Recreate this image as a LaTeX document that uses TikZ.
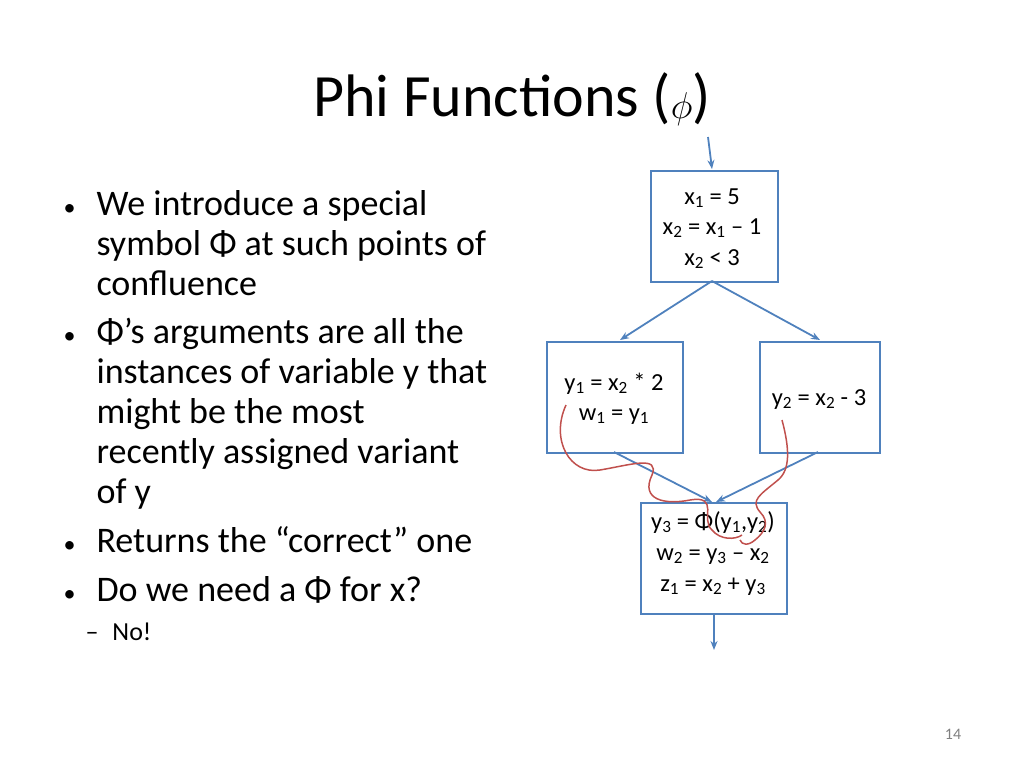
\documentclass[tikz,border=0pt]{standalone}
\usepackage{fontspec}
\setmainfont{Carlito}
\usetikzlibrary{arrows.meta}
\definecolor{bbl}{RGB}{79,129,189}
\definecolor{rd}{RGB}{192,80,77}
\begin{document}
\begin{tikzpicture}[x=1pt,y=-1pt,
  box/.style={draw=bbl,line width=1.5pt,minimum width=#1,anchor=north west,inner sep=0},
  bt/.style={font=\fontsize{24.5}{28}\selectfont,anchor=base},
  arr/.style={draw=bbl,line width=1.8pt,-{Stealth[length=9pt,width=7pt]}},
  bul/.style={font=\fontsize{36}{40}\selectfont,anchor=base west},
  red/.style={draw=rd,line width=1.5pt}]
\useasboundingbox (0,0) rectangle (1024,768);
\node[anchor=base,font=\fontsize{60}{66}\selectfont] (title) at (512,116) {Phi Functions (\raisebox{-2pt}{\scalebox{1.5}{$\phi$}})};
% boxes
\node[box=127pt,minimum height=111pt] (A) at (650,170) {};
\node[box=136pt,minimum height=111pt] (L) at (546,341) {};
\node[box=120pt,minimum height=111pt] (R) at (759,341) {};
\node[box=146pt,minimum height=111pt] (B) at (640,502) {};
\node[bt] (a1) at (712,204) {x\textsubscript{1} = 5};
\node[bt] (a2) at (712,234) {x\textsubscript{2} = x\textsubscript{1} – 1};
\node[bt] (a3) at (712,265) {x\textsubscript{2} < 3};
\node[bt] (l1) at (614,390) {y\textsubscript{1} = x\textsubscript{2} * 2};
\node[bt] (l2) at (614,420) {w\textsubscript{1} = y\textsubscript{1}};
\node[bt] (r1) at (819,405) {y\textsubscript{2} = x\textsubscript{2} - 3};
\node[bt] (b1) at (713,529) {y\textsubscript{3} = Φ(y\textsubscript{1},y\textsubscript{2})};
\node[bt] (b2) at (713,560) {w\textsubscript{2} = y\textsubscript{3} – x\textsubscript{2}};
\node[bt] (b3) at (713,591) {z\textsubscript{1} = x\textsubscript{2} + y\textsubscript{3}};
\coordinate (in) at (708,137);
\coordinate (out) at (714,650);
\draw[arr] (in) -- (712,169);
\draw[arr] (712,281) -- (620,340);
\draw[arr] (712,281) -- (820,340);
\draw[arr] (614,452) -- (712,502);
\draw[arr] (818,452) -- (716,502);
\draw[arr] (714,613) -- (out);
% red curves
\draw[red] (566,405) .. controls (550,440) and (570,475) .. (600,470)
  .. controls (630,465) and (660,455) .. (652,475)
  .. controls (640,500) and (665,505) .. (690,500)
  .. controls (720,495) and (700,520) .. (712,530)
  .. controls (720,540) and (735,540) .. (742,535);
\draw[red] (782,420) .. controls (790,450) and (790,470) .. (778,480)
  .. controls (760,495) and (750,500) .. (760,512)
  .. controls (770,522) and (765,532) .. (755,540)
  .. controls (748,546) and (742,545) .. (740,540);
% bullets
\foreach \y in {215,343,552,601} \node[font=\fontsize{24}{28}\selectfont,anchor=base west] at (60,\y) {•};
\node[bul] (t1) at (93,215) {We introduce a special};
\node[bul] (t2) at (93,255) {symbol Φ at such points of};
\node[bul] (t3) at (93,295) {confluence};
\node[bul] (t4) at (93,343) {Φ’s arguments are all the};
\node[bul] (t5) at (93,383) {instances of variable y that};
\node[bul] (t6) at (93,423) {might be the most};
\node[bul] (t7) at (93,463) {recently assigned variant};
\node[bul] (t8) at (93,503) {of y};
\node[bul] (t9) at (93,552) {Returns the “correct” one};
\node[bul] (t10) at (93,601) {Do we need a Φ for x?};
\node[font=\fontsize{26}{30}\selectfont,anchor=base west] (t11) at (82,640) {–\hspace{14pt}No!};
\node[font=\fontsize{16}{18}\selectfont,anchor=base,text=gray] (pg) at (953,739) {14};
\end{tikzpicture}
\end{document}
